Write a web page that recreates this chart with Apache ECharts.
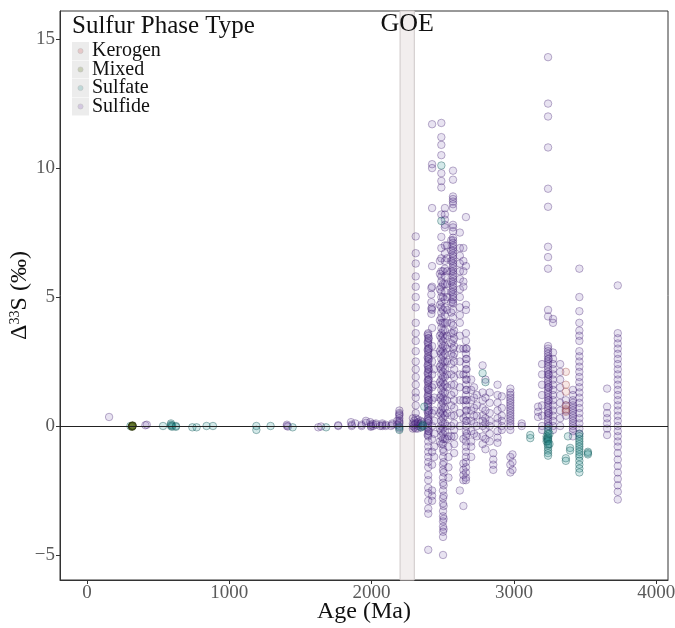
<!DOCTYPE html>
<html><head><meta charset="utf-8">
<script src="https://cdn.jsdelivr.net/npm/echarts@6/dist/echarts.min.js"></script>
<style>html,body{margin:0;padding:0;background:#fff}#c{width:675px;height:628px}</style>
</head><body><div id="c"></div>
<script>
// ---- data: [age (Ma), [Δ33S values]] ----
const sulfideCols = [
 [155,[0.35]],[410,[0.03]],[420,[0.05]],
 [1405,[0.0,0.05]],[1412,[-0.02]],[1625,[-0.05]],[1645,[-0.02]],
 [1765,[0.0,0.03]],[1855,[0.15]],[1860,[0.0,0.05]],[1885,[0.1]],
 [1930,[0.0,0.05]],[1960,[0.2,0.12]],[1990,[0.15]],[1995,[0.0,0.05,-0.03]],[2010,[0.0,0.08]],
 [2030,[0.1,0.05]],[2060,[0.0]],[2075,[0.0,0.05,0.1]],[2100,[0.05,0.0]],
 [2136,[0.0]],[2145,[0.05,0.1]],[2180,[0.05,0.2]],
 [2195,[0.6,0.5,0.45,0.4,0.3,0.2,0.15,0.1,0.0,-0.1]],
 [2290,[0.3,0.1,0.0,-0.1]],[2300,[0.2,0.05,-0.05]],[2325,[0.25,0.1,0.0,-0.1,0.15]],[2345,[0.2,0.05,-0.05,0.1]],[2355,[0.15,0.0]],
 [2310,[7.35,6.7,6.3,5.8,5.4,5.0,4.6,4.0,3.6,3.3,2.9,2.5,2.2,1.9,1.6,1.3,1.1,0.8,0.5,0.3,0.1,-0.1]],
 [2398,[3.6,3.5,3.4,3.3,3.2,3.1,3.0,2.9,2.8,2.7,2.6,2.5,2.4,2.3,2.2,2.1,2.0,1.9,1.8,1.7,1.6,1.5,1.4,1.3,1.2,1.1,1.0,0.9,0.8,0.7,0.6,0.5,0.4,0.3,0.2,0.1,0.0,-0.1,-0.2,-0.3,-0.4]],
 [2394,[3.55,3.25,2.95,2.65,2.35,2.05,1.75,1.45,1.15,0.85,0.55,0.25,-0.05,-0.35]],
 [2402,[3.4,3.0,2.6,2.2,1.8,1.4,1.0,0.6,0.2,-0.2]],
 [2398,[-0.6,-0.8,-1.0,-1.2,-1.4,-1.6,-1.9,-2.1,-2.4,-2.6,-2.9,-3.2,-3.4,-4.8]],
 [2420,[5.35,5.1,4.8,4.55,4.35]],
 [2425,[11.7,10.15,10.0,8.45,6.2,5.4,4.6,4.5,3.8,3.1,2.5,2.0,1.5,1.0,0.5,0.0,-0.5,-1.0,-1.5,-2.5,-2.7,-2.9]],
 [2440,[2.8,2.2,1.6,1.1,0.6,0.2,-0.3,-0.8,-1.2]],
 [2480,[6.4,5.9,5.3,4.7,4.1,3.5,2.9,2.3,1.7,1.1,0.5,-0.1,-0.6]],
 [2490,[11.75,11.2,10.9,10.5,9.8,9.5,9.25,8.2,7.33,6.9,6.5,6.0,5.8,5.6,5.4,5.2,5.0,4.8,4.6,4.4,4.2,4.0,3.8,3.6,3.4,3.2,3.0,2.8,2.6,2.4,2.2,2.0,1.8,1.6,1.4,1.2,1.0,0.8,0.6,0.4,0.2,0.0,-0.2,-0.4,-0.7]],
 [2502,[6.0,5.5,5.0,4.5,4.0,3.7,3.5,3.3,3.1,2.9,2.7,2.5,2.3,2.1,1.9,1.7,1.5,1.3,1.1,0.9,0.7,0.5,0.3,0.1,-0.1,-0.3,-0.5,-0.7,-0.9,-1.2,-1.5,-1.7,-2.0,-2.2,-2.5,-2.8,-3.0,-3.3,-3.5,-3.7,-3.9,-4.1,-4.3,-5.0]],
 [2506,[-1.0,-1.4,-1.8,-2.3,-2.7,-3.1,-3.6,-4.0]],
 [2515,[8.45,8.2,8.0,7.8,7.7,7.0,6.7,6.4,6.1,5.8,5.5,5.2,4.9,4.6,4.3,4.0,3.7,3.4,3.1,2.8,2.5,2.2,1.9,1.6,1.3,1.0,0.7,0.4,0.1,-0.2,-0.5]],
 [2530,[7.0,6.5,6.0,5.5,5.0,4.5,4.0,3.5,3.0,2.5,2.0,1.5,1.0,0.5,0.0,-0.5]],
 [2540,[-0.4,-0.8,-1.2,-1.6,-2.0]],
 [2560,[7.2,6.8,6.4,6.0,5.6,5.2,4.8,4.4,4.0,3.6,3.2,2.8,2.4,2.0,1.6,1.2,0.8,0.4,0.0,-0.4]],
 [2572,[9.9,9.55,8.9,8.8,8.7,8.6,8.45,7.8,7.7,7.55,7.3,7.2,7.1,7.0,6.9,6.8,6.7,6.6,6.5,6.4,6.3,6.2,6.1,6.0,5.9,5.8,5.7,5.6,5.5,5.4,5.3,5.2,5.1,5.0,4.9,4.8,4.75,4.5,4.2,3.9,3.6,3.3,3.0,2.7]],
 [2580,[3.7,3.4,3.1,2.8,2.5,2.2,1.9,1.6,1.3,1.0,0.7,0.4,0.1,-0.15,-0.4,-0.7,-1.05]],
 [2620,[7.5,6.9,6.6,6.3,6.0,5.7,5.3,5.0,4.6,4.3,4.0,3.5,3.0,2.5,2.0,1.5,1.0,0.5,0.0,-2.5]],
 [2645,[6.9,6.4,6.0,5.6,5.4,3.0,2.0,1.0,0.3,-0.5,-1.45,-1.7,-1.9,-2.1,-3.1]],
 [2663,[8.1,6.2,4.7,4.5,3.6,3.3,3.0,2.8,2.6,2.4,2.2,2.0,1.8,1.6,1.4,1.2,1.0,0.8,0.6,0.4,0.2,0.0,-0.2,-0.4,-0.6,-0.8,-1.0,-1.2,-1.4,-1.6,-1.8,-2.0,-2.1]],
 [2668,[3.0,2.6,2.2,1.8,1.4,1.0,0.6,0.2,-0.3]],
 [2700,[1.8,1.4,1.0,0.6,0.2,-0.2,-0.6,-0.8,-1.2]],
 [2720,[1.5,1.1,0.7,0.4,0.1,-0.3]],
 [2740,[1.2,0.8,0.4,0.0,-0.4]],
 [2780,[2.35,1.3,1.0,0.7,0.4,0.2,0.0,-0.4,-0.7]],
 [2800,[1.8,1.1,0.6,0.3,0.1,-0.1,-0.5,-0.9]],
 [2830,[1.3,0.9,0.5,0.2,0.0,-0.3,-0.6]],
 [2855,[-1.05,-1.3,-1.5,-1.7]],
 [2885,[1.6,1.2,0.9,0.6,0.3,0.1,-0.2,-0.45,-0.65]],
 [2915,[1.15,0.7,0.4,0.2,0.0,-0.15]],
 [2975,[1.45,1.3,1.2,1.1,1.0,0.9,0.8,0.7,0.6,0.5,0.4,0.3,0.2,0.1,0.0,-0.15,-1.2,-1.5,-1.8]],
 [2990,[-1.1,-1.4,-1.7]],
 [3055,[0.1,0.0]],
 [3170,[0.75,0.55,0.35]],
 [3198,[2.4,2.0,1.6,1.2,0.8,0.4,0.0,-0.15]],
 [3240,[14.3,12.5,12.0,10.8,9.2,8.5,6.95,6.55,6.1,4.5,4.25,3.1,3.0,2.9,2.8,2.7,2.6,2.5,2.4,2.3,2.2,2.1,2.0,1.9,1.8,1.7,1.6,1.5,1.4,1.3,1.2,1.1,1.0,0.9,0.8,0.7,0.6,0.5,0.4,0.3,0.2,0.1,0.0]],
 [3245,[2.6,2.0,1.5,1.0,0.5,0.0]],
 [3275,[4.15,4.0,2.85,2.6,2.4,2.2,2.0,1.8,1.6,1.4,1.2,1.0,0.8,0.6,0.4,0.2,0.0,-0.15]],
 [3325,[2.4,2.1,1.8,1.5,1.2,0.9,0.6,0.3,0.0]],
 [3365,[1.0,0.8,0.6,0.4]],
 [3415,[1.4,1.2,1.0,0.9,0.8,0.7,0.6,0.5,0.4,0.3,0.2,0.1,0.0,-0.1,-0.2,-0.4]],
 [3460,[6.1,5.0,4.45,4.0,3.7,3.5,3.3,2.9,2.7,2.5,2.3,2.1,1.9,1.7,1.5,1.3,1.1,0.9,0.7,0.5,0.3,0.1,-0.1,-0.3]],
 [3655,[1.45,0.75,0.5,0.3,0.1,-0.1,-0.35]],
 [3730,[5.45,3.6,3.4,3.2,3.0,2.8,2.6,2.4,2.2,2.0,1.8,1.6,1.4,1.2,1.0,0.8,0.6,0.4,0.2,0.0,-0.2,-0.4,-0.6,-0.8,-1.05,-1.3,-1.55,-1.8,-2.05,-2.3,-2.55,-2.85]]
];
const sulfateCols = [
 [305,[0.0]],[534,[0.0]],[590,[0.0,0.05,0.1]],[598,[-0.03,0.02]],[625,[0.0,-0.03]],
 [740,[-0.05]],[770,[-0.05]],[840,[0.0]],[885,[0.0]],[1190,[0.0,-0.15]],[1290,[0.0]],
 [1445,[-0.05]],[1680,[-0.05]],[2195,[-0.15,-0.05]],[2350,[-0.05]],[2360,[0.0,0.05]],[2370,[0.75]],
 [2490,[10.1,7.95]],[2780,[2.05]],[2800,[1.7]],[3115,[-0.35,-0.47]],
 [3230,[-0.4,-0.5,-0.6]],
 [3240,[-0.1,-0.2,-0.3,-0.4,-0.45,-0.5,-0.55,-0.6,-0.7,-0.75,-0.85,-0.95,-1.05,-1.15]],
 [3250,[-0.3,-0.7]],
 [3365,[-1.25,-1.35]],[3380,[-0.4]],[3395,[-0.85,-0.95]],
 [3460,[-0.3,-0.4,-0.5,-0.6,-0.7,-0.8,-0.9,-1.0,-1.1,-1.2,-1.35,-1.5,-1.65,-1.8]],
 [3520,[-1.0,-1.05,-1.1]]
];
const kerogenCols = [
 [3365,[2.1,1.6,1.33,0.8,0.65,0.55]]
];
const mixedCols = [
 [316,[0.0,-0.03]],[320,[0.02,0.0]]
];
const xTicks = [0,1000,2000,3000,4000];
const yTicks = [-5,0,5,10,15];
const phaseTypes = ['Kerogen','Mixed','Sulfate','Sulfide'];
const goeRange = [2200,2300];

function toPoints(cols){ const out=[]; cols.forEach(c=>c[1].forEach(v=>out.push([c[0],v]))); return out; }

const FONT = '"Liberation Serif", "DejaVu Serif", serif';
const styles = {
 Sulfide:{color:'rgba(98,64,158,0.18)', borderColor:'rgba(58,24,108,0.42)'},
 Sulfate:{color:'rgba(30,140,140,0.24)', borderColor:'rgba(15,85,85,0.5)'},
 Kerogen:{color:'rgba(210,120,110,0.22)', borderColor:'rgba(150,70,70,0.45)'},
 Mixed:{color:'rgba(90,110,30,0.55)', borderColor:'rgba(40,50,10,0.8)'}
};
const keyColors = {Kerogen:'#e6c9c9', Mixed:'#c9cfb8', Sulfate:'#bfd8d8', Sulfide:'#d3c8e0'};

function sc(name, cols, z){
  return {type:'scatter', name, data:toPoints(cols), symbol:'circle', symbolSize:7.5, z,
    itemStyle:{color:styles[name].color, borderColor:styles[name].borderColor, borderWidth:1},
    emphasis:{disabled:true}, animation:false};
}

const chart = echarts.init(document.getElementById('c'), null, {renderer:'canvas'});
const legendGraphics = [
  {type:'text', left:72, top:14, style:{text:'Sulfur Phase Type', font:'25px '+FONT, fill:'#111'}}
];
phaseTypes.forEach((t,i)=>{
  const cy = 51 + i*18.5;
  legendGraphics.push({type:'rect', shape:{x:72, y:cy-9, width:17, height:18}, style:{fill:'#ececec'}});
  legendGraphics.push({type:'circle', shape:{cx:80.5, cy:cy, r:2.6}, style:{fill:keyColors[t], stroke:'#bdbdbd', lineWidth:0.5}});
  legendGraphics.push({type:'text', x:92, y:cy, style:{text:t, font:'20px '+FONT, fill:'#111', textVerticalAlign:'middle'}});
});

chart.setOption({
  animation:false,
  grid:{left:60, right:7, top:11, bottom:48, show:true, borderColor:'#333', borderWidth:1, backgroundColor:'#fff',
        containLabel:false, outerBoundsMode:'none'},
  xAxis:{type:'value', min:-190, max:4083,
    name:'Age (Ma)', nameLocation:'middle', nameGap:20, nameMoveOverlap:false,
    nameTextStyle:{fontFamily:FONT, fontSize:24, color:'#111', verticalAlign:'top'},
    axisLine:{show:true, onZero:false, lineStyle:{color:'#333'}},
    axisTick:{show:true, length:4, lineStyle:{color:'#333'}, customValues:xTicks},
    axisLabel:{fontFamily:FONT, fontSize:19, color:'#5a5a5a', margin:4, customValues:xTicks, formatter:v=>String(v)},
    splitLine:{show:false}},
  yAxis:{type:'value', min:-5.97, max:16.09,
    name:'{a|Δ}{s|33}{a|S (‰)}', nameLocation:'middle', nameGap:28, nameRotate:90, nameMoveOverlap:false,
    nameTextStyle:{verticalAlign:'bottom', rich:{a:{fontFamily:FONT, fontSize:24, color:'#111'}, s:{fontFamily:FONT, fontSize:14, color:'#111', verticalAlign:'top', padding:[0,0,8,0]}}},
    axisLine:{show:true, onZero:false, lineStyle:{color:'#333'}},
    axisTick:{show:true, length:4, lineStyle:{color:'#333'}, customValues:yTicks},
    axisLabel:{fontFamily:FONT, fontSize:19, color:'#5a5a5a', margin:5, customValues:yTicks,
      formatter:v=> v<0 ? '\u2212'+Math.abs(v) : String(v)},
    splitLine:{show:false}},
  graphic:legendGraphics,
  series:[
    {type:'scatter', data:[], z:1, silent:true,
      markArea:{silent:true, itemStyle:{color:'#f2eeee', borderColor:'#cfc8c8', borderWidth:1},
        label:{show:true, position:'insideTop', distance:1, formatter:'GOE', fontFamily:FONT, fontSize:26, color:'#111'},
        data:[[{xAxis:goeRange[0]},{xAxis:goeRange[1]}]]}},
    sc('Sulfide', sulfideCols, 2),
    sc('Sulfate', sulfateCols, 3),
    sc('Kerogen', kerogenCols, 3),
    sc('Mixed', mixedCols, 3),
    {type:'scatter', data:[], z:5, silent:true,
      markLine:{silent:true, symbol:'none', label:{show:false}, lineStyle:{color:'#222', width:1, type:'solid'},
        data:[{yAxis:0}]}}
  ]
});
</script></body></html>
